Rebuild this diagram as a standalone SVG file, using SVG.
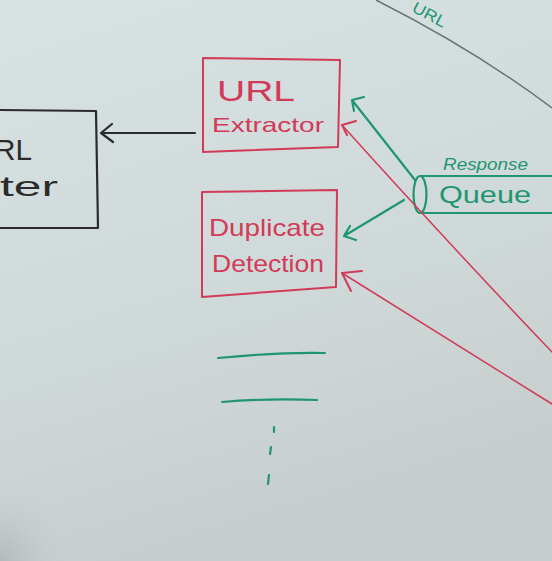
<svg xmlns="http://www.w3.org/2000/svg" width="552" height="561" viewBox="0 0 552 561">
  <defs>
    <linearGradient id="bg" x1="0" y1="0" x2="0.3" y2="1">
      <stop offset="0" stop-color="#d7e2e2"/>
      <stop offset="0.6" stop-color="#d0d9d9"/>
      <stop offset="1" stop-color="#c6cdcd"/>
    </linearGradient>
    <radialGradient id="shadow" cx="0" cy="1" r="1">
      <stop offset="0" stop-color="#a4aaae" stop-opacity="0.6"/>
      <stop offset="1" stop-color="#c6cdcd" stop-opacity="0"/>
    </radialGradient>
    <style>
      .red { stroke: #d13b58; fill: none; stroke-width: 2; stroke-linecap: round; stroke-linejoin: round; }
      .redthin { stroke: #d13b58; fill: none; stroke-width: 1.5; stroke-linecap: round; }
      .green { stroke: #1f9670; fill: none; stroke-width: 2.2; stroke-linecap: round; stroke-linejoin: round; }
      .black { stroke: #2b2b2b; fill: none; stroke-width: 2.2; stroke-linecap: round; stroke-linejoin: round; }
      .grey { stroke: #6b7178; fill: none; stroke-width: 1.5; }
      .tred { fill: #d13b58; font-family: "Liberation Sans", sans-serif; }
      .tgreen { fill: #1f9670; font-family: "Liberation Sans", sans-serif; }
      .tblack { fill: #2b2b2b; font-family: "Liberation Sans", sans-serif; }
    </style>
  </defs>
  <rect width="552" height="561" fill="url(#bg)"/>
  <rect x="0" y="480" width="70" height="81" fill="url(#shadow)"/>

  <!-- grey boundary curve with label -->
  <g id="boundary">
    <path class="grey" d="M376 0 Q 475 50 552 108"/>
    <text class="tgreen" x="0" y="0" font-size="16" transform="translate(411 11) rotate(28)" textLength="36" lengthAdjust="spacingAndGlyphs">URL</text>
  </g>

  <g id="url-router">
    <path class="black" d="M0 110 L96 111 L98 228 L0 228"/>
    <text class="tblack" x="-6" y="160" font-size="30" textLength="38" lengthAdjust="spacingAndGlyphs">RL</text>
    <text class="tblack" x="0" y="196" font-size="28" textLength="58" lengthAdjust="spacingAndGlyphs">ter</text>
  </g>

  <g id="url-extractor">
    <path class="red" d="M203 58 L340 60 L338 147 L203 152 Z"/>
    <text class="tred" x="217" y="101" font-size="30" textLength="78" lengthAdjust="spacingAndGlyphs">URL</text>
    <text class="tred" x="212" y="132" font-size="21" textLength="112" lengthAdjust="spacingAndGlyphs">Extractor</text>
  </g>

  <g id="duplicate-detection">
    <path class="red" d="M202 192 L337 190 L336 287 L202 297 Z"/>
    <text class="tred" x="209" y="236" font-size="24" textLength="116" lengthAdjust="spacingAndGlyphs">Duplicate</text>
    <text class="tred" x="212" y="272" font-size="24" textLength="112" lengthAdjust="spacingAndGlyphs">Detection</text>
  </g>

  <g id="response-queue">
    <path class="green" d="M420 176 L552 176 M420 213 L552 213"/>
    <ellipse class="green" cx="420" cy="194.5" rx="6.5" ry="18.5"/>
    <text class="tgreen" x="443" y="170" font-size="16" font-style="italic" textLength="85" lengthAdjust="spacingAndGlyphs">Response</text>
    <text class="tgreen" x="439" y="203" font-size="24" textLength="92" lengthAdjust="spacingAndGlyphs">Queue</text>
  </g>

  <g id="list-placeholder">
    <path class="green" d="M218 358 Q 280 352 325 353"/>
    <path class="green" d="M222 402 Q 270 398 317 400"/>
    <path class="green" d="M274 427 L274 432 M271 447 L270 454 M269 475 L268 484"/>
  </g>

  <g id="connectors">
    <path class="black" d="M195 133 L101 133 M112 124 L101 133 L113 142"/>
    <path class="green" d="M415 180 L352 100 M352 100 L364 97 M352 100 L354 111"/>
    <path class="green" d="M404 200 L344 236 M344 236 L356 240 M344 236 L350 226"/>
    <path class="redthin" d="M552 352 Q 450 245 342 125"/>
    <path class="red" d="M342 125 L356 121 M342 125 L347 135"/>
    <path class="redthin" d="M552 404 Q 450 340 342 273"/>
    <path class="red" d="M342 273 L362 271 M342 273 L351 291"/>
  </g>
</svg>
